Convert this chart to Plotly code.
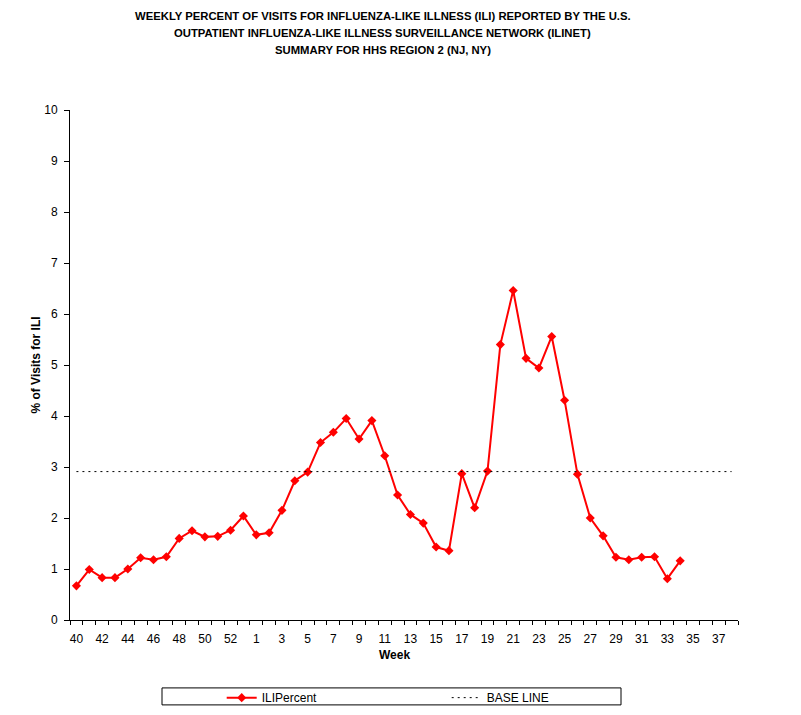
import plotly.graph_objects as go

# Data
WEEKS = ["40", "41", "42", "43", "44", "45", "46", "47", "48", "49", "50", "51", "52", "53",
         "1", "2", "3", "4", "5", "6", "7", "8", "9", "10", "11", "12", "13", "14", "15", "16",
         "17", "18", "19", "20", "21", "22", "23", "24", "25", "26", "27", "28", "29", "30",
         "31", "32", "33", "34", "35", "36", "37", "38"]
ILI_PERCENT = [0.67, 0.99, 0.83, 0.83, 1.00, 1.22, 1.18, 1.24, 1.60, 1.75, 1.63, 1.64, 1.76, 2.04,
               1.67, 1.71, 2.15, 2.73, 2.90, 3.48, 3.68, 3.95, 3.55, 3.91, 3.22, 2.45, 2.07, 1.90,
               1.43, 1.36, 2.87, 2.20, 2.92, 5.40, 6.46, 5.13, 4.94, 5.56, 4.31, 2.86, 2.00, 1.65,
               1.23, 1.18, 1.23, 1.24, 0.81, 1.16]
BASELINE = 2.91

TITLE_LINES = [
    "WEEKLY PERCENT OF VISITS FOR INFLUENZA-LIKE ILLNESS (ILI) REPORTED BY THE U.S.",
    "OUTPATIENT INFLUENZA-LIKE ILLNESS SURVEILLANCE NETWORK (ILINET)",
    "SUMMARY FOR HHS REGION 2 (NJ, NY)",
]

FONT = "Liberation Sans, Arial, sans-serif"

# page body adds 8px offset, so the margins are pulled back by that
OFF = 8
PLOT_L, PLOT_R, PLOT_T, PLOT_B = 70.3, 738.3, 109.7, 620.3
PW, PH = PLOT_R - PLOT_L, PLOT_B - PLOT_T

fig = go.Figure()

fig.add_trace(go.Scatter(
    x=WEEKS[:len(ILI_PERCENT)], y=ILI_PERCENT,
    mode="lines+markers", name="ILIPercent",
    line=dict(color="#FF0000", width=2),
    marker=dict(symbol="diamond", size=7, color="#FF0000"),
))
fig.add_trace(go.Scatter(
    x=[WEEKS[0], WEEKS[-1]], y=[BASELINE, BASELINE],
    mode="lines", name="BASE LINE",
    line=dict(color="black", width=1, dash="2px,4px"),
))

# title lines as separate annotations (line spacing of the original)
for i, txt in enumerate(TITLE_LINES):
    fig.add_annotation(
        text="<b>" + txt + "</b>", xref="paper", yref="paper",
        x=(383 - PLOT_L) / PW, y=1 + (PLOT_T - (16 + 17 * i)) / PH,
        xanchor="center", yanchor="middle", showarrow=False,
        font=dict(family=FONT, size=11.3, color="black"),
    )

# x axis title sits a bit left of centre in the original
fig.add_annotation(
    text="<b>Week</b>", xref="paper", yref="paper",
    x=(395 - PLOT_L) / PW, y=-(655 - PLOT_B) / PH,
    xanchor="center", yanchor="middle", showarrow=False,
    font=dict(family=FONT, size=12, color="black"),
)

# legend frame
fig.add_shape(
    type="rect", xref="paper", yref="paper",
    x0=(162.3 - PLOT_L) / PW, x1=(621.3 - PLOT_L) / PW,
    y0=-(705.3 - PLOT_B) / PH, y1=-(688.3 - PLOT_B) / PH,
    line=dict(color="black", width=1), fillcolor="white", layer="below",
)

ticktext = [w if i % 2 == 0 else "" for i, w in enumerate(WEEKS)]

fig.update_layout(
    width=801, height=715,
    margin=dict(l=PLOT_L - OFF, r=801 - PLOT_R + OFF, t=PLOT_T - OFF, b=715 - PLOT_B + OFF,
                autoexpand=False),
    paper_bgcolor="white", plot_bgcolor="white",
    font=dict(family=FONT, size=12, color="black"),
    showlegend=True,
    legend=dict(
        orientation="h", x=(222 - PLOT_L) / PW, xanchor="left",
        y=-(683.5 - PLOT_B) / PH, yanchor="top",
        entrywidth=180, bgcolor="rgba(0,0,0,0)",
        font=dict(family=FONT, size=12, color="black"),
    ),
    xaxis=dict(
        type="category", categoryorder="array", categoryarray=WEEKS,
        range=[-0.5, len(WEEKS) - 0.5],
        tickmode="array", tickvals=WEEKS, ticktext=ticktext,
        tickson="boundaries", ticks="outside", ticklen=4, tickcolor="black",
        ticklabelstandoff=8,
        showline=True, linecolor="black", linewidth=1,
        showgrid=False, zeroline=False,
        tickangle=0,
    ),
    yaxis=dict(
        range=[0, 10], dtick=1, tick0=0,
        ticks="outside", ticklen=5, tickcolor="black",
        ticklabelstandoff=4,
        showline=True, linecolor="black", linewidth=1,
        showgrid=False, zeroline=False,
        title=dict(text="<b>% of Visits for ILI</b>", standoff=1, font=dict(size=12)),
    ),
)

fig.write_html("out.html")
